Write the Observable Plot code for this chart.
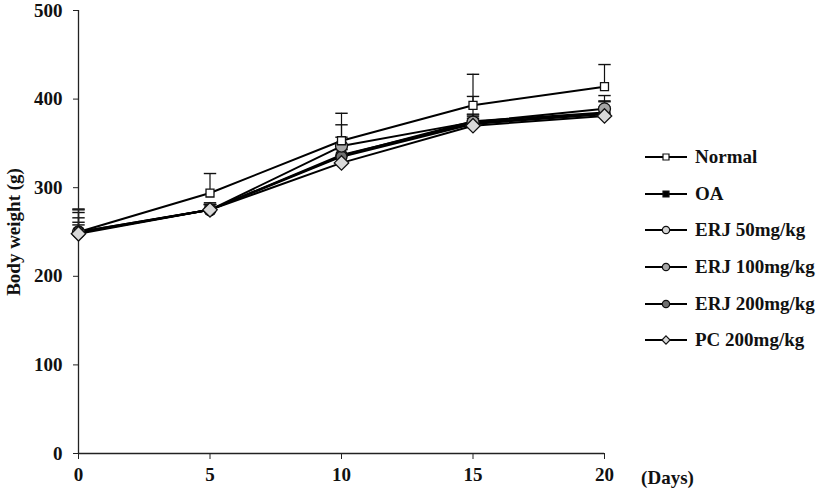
<!DOCTYPE html>
<html>
<head>
<meta charset="utf-8">
<script src="https://cdn.jsdelivr.net/npm/d3@7"></script>
<script src="https://cdn.jsdelivr.net/npm/@observablehq/plot@0.6"></script>
<style>
  body { margin: 0; background: #fff; }
  #wrap { position: relative; width: 827px; height: 489px; font-family: "Liberation Serif", "Times New Roman", serif; }
  #legend { position: absolute; left: 643px; top: 139px; font-weight: bold; font-size: 19px; color: #111; }
  .row { display: flex; align-items: center; height: 36.6px; }
  .row svg { margin-right: 6px; }
</style>
</head>
<body>
<div id="wrap"><div id="legend"></div></div>
<script>
const days = [0, 5, 10, 15, 20];
const seriesNames = ["Normal", "OA", "ERJ 50mg/kg", "ERJ 100mg/kg", "ERJ 200mg/kg", "PC 200mg/kg"];
const normal = [250, 294, 353, 393, 414];
const oa     = [249, 275, 336, 375, 385];
const erj50  = [250, 275, 337, 373, 384];
const erj100 = [250, 275, 347, 374, 389];
const erj200 = [249, 275, 335, 372, 383];
const pc200  = [248, 275, 328, 370, 381];
const normalErr = [25, 22, 31, 35, 25];
const oaErr     = [27, 8, 35, 28, 19];
const erj50Err  = [22, 6, 12, 10, 13];
const erj100Err = [16, 6, 10, 8, 9];
const erj200Err = [12, 6, 8, 8, 8];
const pc200Err  = [10, 6, 8, 8, 8];
const yTicks = [0, 100, 200, 300, 400, 500];
const xTicks = [0, 5, 10, 15, 20];

const styles = {
  "Normal":       {symbol: "square",   fill: "#ffffff", r: 4.5},
  "OA":           {symbol: "square",   fill: "#000000", r: 4},
  "ERJ 50mg/kg":  {symbol: "circle",   fill: "#d4d4d4", r: 5.5},
  "ERJ 100mg/kg": {symbol: "circle",   fill: "#a6a6a6", r: 6},
  "ERJ 200mg/kg": {symbol: "circle",   fill: "#707070", r: 5.5},
  "PC 200mg/kg":  {symbol: "diamond2", fill: "#d9d9d9", r: 6.5}
};

const values = [normal, oa, erj50, erj100, erj200, pc200];
const errs = [normalErr, oaErr, erj50Err, erj100Err, erj200Err, pc200Err];
const data = [];
seriesNames.forEach((s, i) => days.forEach((d, j) => data.push({series: s, day: d, w: values[i][j], e: errs[i][j], top: values[i][j] + errs[i][j]})));

const cap = {draw(ctx, size) { const w = Math.sqrt(size) / 2; ctx.moveTo(-w, 0); ctx.lineTo(w, 0); }};
const font = {fontSize: 19, fontWeight: "bold", fontFamily: "Liberation Serif, Times New Roman, serif", fill: "#111"};

const marks = [
  Plot.ruleX(data, {x: "day", y1: "w", y2: "top", stroke: "#111", strokeWidth: 1.2}),
  Plot.dot(data, {x: "day", y: "top", symbol: () => cap, r: 7, stroke: "#111", strokeWidth: 1.4, fill: "none"}),
  Plot.line(data, {x: "day", y: "w", z: "series", stroke: "#000", strokeWidth: 2}),
  Plot.ruleY([0], {stroke: "#222", strokeWidth: 1.3}),
  Plot.ruleX([0], {stroke: "#222", strokeWidth: 1.3}),
  Plot.axisX({ticks: xTicks, tickSize: 6, tickPadding: 8, tickFormat: d => d, label: null, ...font, stroke: "#222"}),
  Plot.axisY({ticks: yTicks, tickSize: 5, tickPadding: 11, tickFormat: d => d, label: "Body weight (g)", labelAnchor: "center", labelArrow: "none", labelOffset: 72, ...font, stroke: "#222"})
];
const drawOrder = ["OA", "ERJ 50mg/kg", "ERJ 200mg/kg", "ERJ 100mg/kg", "Normal", "PC 200mg/kg"];
for (const s of drawOrder) {
  const st = styles[s];
  marks.push(Plot.dot(data.filter(d => d.series === s), {x: "day", y: "w", symbol: st.symbol, r: st.r, fill: st.fill, stroke: "#111", strokeWidth: 1.3}));
}
marks.push(Plot.text(["(Days)"], {x: () => xTicks[xTicks.length - 1], y: () => 0, dx: 63, dy: 24, ...font}));

const chart = Plot.plot({
  width: 827, height: 489,
  marginLeft: 78, marginRight: 223, marginTop: 10, marginBottom: 36,
  style: {fontFamily: "Liberation Serif, Times New Roman, serif", fontSize: "19px", fontWeight: "bold", color: "#111", background: "white", overflow: "visible"},
  x: {domain: [0, 20]},
  y: {domain: [0, 500]},
  marks
});
document.getElementById("wrap").prepend(chart);

// legend
const legend = document.getElementById("legend");
const symMap = {square: d3.symbolSquare, circle: d3.symbolCircle, diamond2: d3.symbolDiamond2};
for (const s of seriesNames) {
  const st = styles[s];
  const row = document.createElement("div");
  row.className = "row";
  const sw = d3.create("svg").attr("width", 46).attr("height", 14);
  sw.append("line").attr("x1", 2).attr("x2", 44).attr("y1", 7).attr("y2", 7).attr("stroke", "#000").attr("stroke-width", 2);
  const sz = s === "Normal" || s === "OA" ? 36 : 42;
  sw.append("path").attr("transform", "translate(23,7)").attr("d", d3.symbol(symMap[st.symbol], sz)())
    .attr("fill", st.fill).attr("stroke", "#111").attr("stroke-width", 1.2);
  row.appendChild(sw.node());
  const t = document.createElement("span");
  t.textContent = s;
  row.appendChild(t);
  legend.appendChild(row);
}
</script>
</body>
</html>
